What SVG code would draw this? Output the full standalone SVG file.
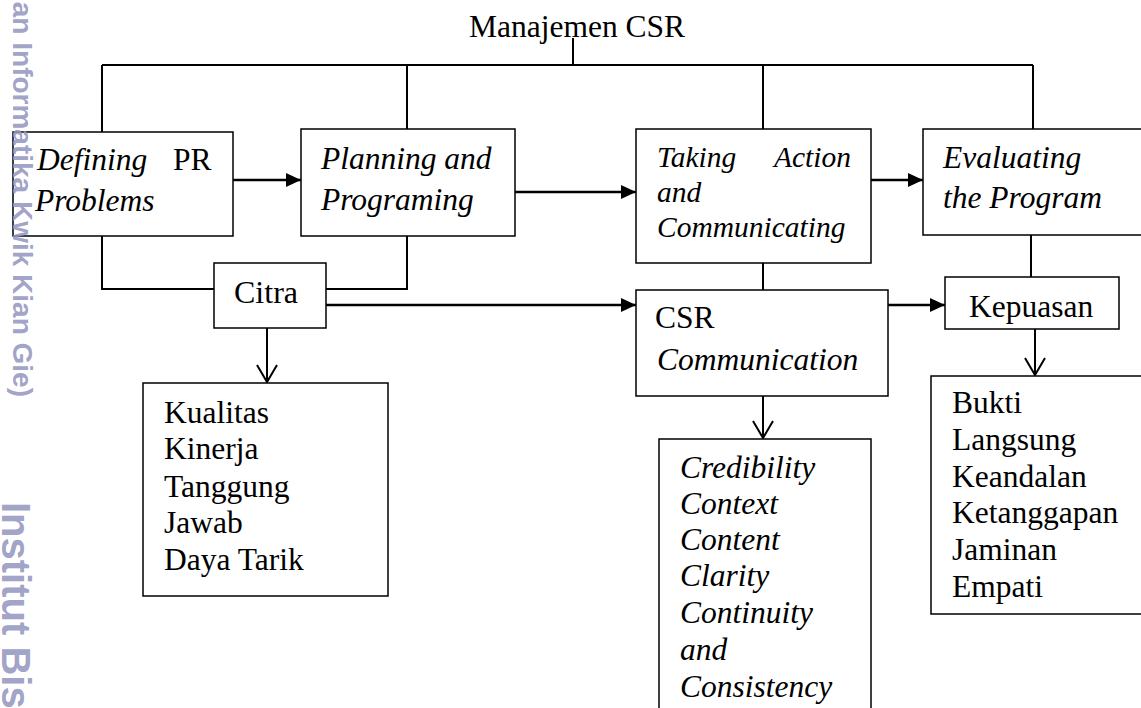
<svg xmlns="http://www.w3.org/2000/svg" width="1141" height="708" viewBox="0 0 1141 708">
<style>
.box{fill:#fff;stroke:#000;stroke-width:1.5}
.t{font-family:"Liberation Serif","Times New Roman",serif;font-size:31.5px;fill:#000}
.i{font-style:italic}
.ln{fill:none;stroke:#000;stroke-width:2}
.fa{marker-end:url(#fa);stroke-width:2.5}
.va{marker-end:url(#va)}
.wm{font-family:"Liberation Sans",Arial,sans-serif;font-weight:bold;fill:#9597c1}
</style>
<defs>
<marker id="fa" markerUnits="userSpaceOnUse" markerWidth="16" markerHeight="14" refX="15" refY="7" orient="auto"><path d="M0,0 L15,7 L0,14 z" fill="#000"/></marker>
<marker id="va" markerUnits="userSpaceOnUse" markerWidth="22" markerHeight="24" refX="18" refY="11" orient="auto" overflow="visible"><path d="M1,1 L18,11 L1,21" fill="none" stroke="#000" stroke-width="2"/></marker>
</defs>
<rect width="1141" height="708" fill="#fff"/>

<g id="title"><text class="t" x="469" y="37">Manajemen CSR</text></g>

<g id="connectors">
<path class="ln" d="M573,38 V65"/>
<path class="ln" d="M102,65 H1033"/>
<path class="ln" d="M102,65 V132"/>
<path class="ln" d="M407,65 V129"/>
<path class="ln" d="M763,65 V129"/>
<path class="ln" d="M1033,65 V129"/>
<path class="ln" d="M102,236 V289 H214"/>
<path class="ln" d="M407,236 V289 H326"/>
<path class="ln" d="M763,263 V290"/>
<path class="ln" d="M1031,235 V277"/>
<path class="ln fa" d="M233,180 H301"/>
<path class="ln fa" d="M515,192 H636"/>
<path class="ln fa" d="M871,180 H923"/>
<path class="ln fa" d="M326,305 H636"/>
<path class="ln fa" d="M888,305 H945"/>
<path class="ln va" d="M267,328 V382"/>
<path class="ln va" d="M763,396 V438"/>
<path class="ln va" d="M1035,329 V375"/>
</g>

<g id="defining">
<rect class="box" x="13" y="132" width="220" height="104"/>
<text class="t i" x="37" y="170">Defining</text>
<text class="t" x="173" y="170">PR</text>
<text class="t i" x="35" y="211">Problems</text>
</g>
<g id="planning">
<rect class="box" x="301" y="129" width="214" height="107"/>
<text class="t i" x="321" y="169">Planning and</text>
<text class="t i" x="321" y="210">Programing</text>
</g>
<g id="taking">
<rect class="box" x="636" y="129" width="235" height="134"/>
<text class="t i" x="657" y="167" style="font-size:29.5px">Taking</text>
<text class="t i" x="851" y="167" text-anchor="end" style="font-size:29.5px">Action</text>
<text class="t i" x="657" y="202" style="font-size:29.5px">and</text>
<text class="t i" x="657" y="237" style="font-size:29.5px">Communicating</text>
</g>
<g id="evaluating">
<rect class="box" x="923" y="129" width="230" height="106"/>
<text class="t i" x="943" y="168">Evaluating</text>
<text class="t i" x="943" y="208">the Program</text>
</g>
<g id="citra">
<rect class="box" x="214" y="263" width="112" height="65"/>
<text class="t" x="234" y="303" style="font-size:32px">Citra</text>
</g>
<g id="csr-communication">
<rect class="box" x="636" y="290" width="252" height="106"/>
<text class="t" x="655" y="328">CSR</text>
<text class="t i" x="657" y="370">Communication</text>
</g>
<g id="kepuasan">
<rect class="box" x="945" y="277" width="174" height="52"/>
<text class="t" x="969" y="317">Kepuasan</text>
</g>
<g id="citra-dimensi">
<rect class="box" x="143" y="383" width="245" height="213"/>
<text class="t" x="164" y="423">Kualitas</text>
<text class="t" x="164" y="459">Kinerja</text>
<text class="t" x="164" y="497">Tanggung</text>
<text class="t" x="164" y="533">Jawab</text>
<text class="t" x="164" y="570">Daya Tarik</text>
</g>
<g id="csr-dimensi">
<rect class="box" x="659" y="439" width="212" height="290"/>
<text class="t i" x="680" y="478">Credibility</text>
<text class="t i" x="680" y="514">Context</text>
<text class="t i" x="680" y="550">Content</text>
<text class="t i" x="680" y="586">Clarity</text>
<text class="t i" x="680" y="623">Continuity</text>
<text class="t i" x="680" y="660">and</text>
<text class="t i" x="680" y="697">Consistency</text>
</g>
<g id="kepuasan-dimensi">
<rect class="box" x="931" y="376" width="220" height="238"/>
<text class="t" x="952" y="413">Bukti</text>
<text class="t" x="952" y="450">Langsung</text>
<text class="t" x="952" y="487">Keandalan</text>
<text class="t" x="952" y="523">Ketanggapan</text>
<text class="t" x="952" y="560">Jaminan</text>
<text class="t" x="952" y="597">Empati</text>
</g>

<g id="watermark" fill-opacity="0.9">
<text class="wm" transform="translate(13,397) rotate(90)" text-anchor="end" style="font-size:28px">an Informatika Kwik Kian Gie)</text>
<text class="wm" transform="translate(2,502) rotate(90)" style="font-size:40px">Institut Bis</text>
</g>
</svg>
